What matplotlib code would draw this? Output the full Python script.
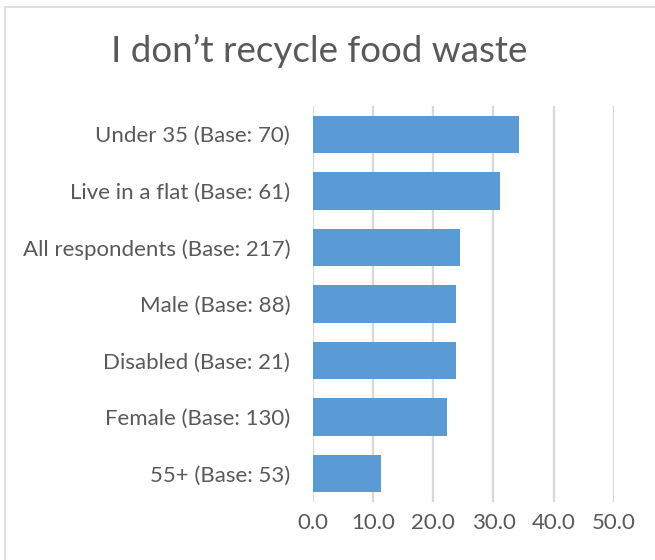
import matplotlib
matplotlib.use("Agg")
import matplotlib.pyplot as plt
from matplotlib.patches import Rectangle
from matplotlib.ticker import FormatStrFormatter

plt.rcParams['font.family'] = ['Lato', 'DejaVu Sans']

# data (top to bottom)
categories = ["Under 35 (Base: 70)", "Live in a flat (Base: 61)", "All respondents (Base: 217)",
              "Male (Base: 88)", "Disabled (Base: 21)", "Female (Base: 130)", "55+ (Base: 53)"]
values = [34.3, 31.1, 24.5, 23.8, 23.8, 22.3, 11.3]
xticks = [0, 10, 20, 30, 40, 50]

text_color = "#595959"
bar_color = "#5b9bd5"
grid_color = "#d9d9d9"

fig = plt.figure(figsize=(6.55, 5.6), dpi=100)
ax = fig.add_axes([0.478, 0.1036, 0.459, 0.7071])

y = list(range(len(categories)))[::-1]
ax.barh(y, values, height=0.66, color=bar_color, zorder=3)

ax.set_xlim(0, 50)
ax.set_ylim(-0.5, len(categories) - 0.5)
ax.set_xticks(xticks)
ax.xaxis.set_major_formatter(FormatStrFormatter('%.1f'))
ax.set_yticks(y)
ax.set_yticklabels(categories)
ax.grid(axis='x', color=grid_color, linewidth=1.6, zorder=0)
ax.tick_params(length=0, labelsize=16, colors=text_color)
ax.tick_params(axis='y', pad=16.5)
ax.tick_params(axis='x', pad=8)
for s in ax.spines.values():
    s.set_visible(False)

fig.text(0.488, 0.91, "I don\u2019t recycle food waste", ha='center', va='center',
         fontsize=26.5, color=text_color)

# chart area border
fig.patches.append(Rectangle((5 / 655, -0.1), 1.2, 1 - 7 / 560 + 0.1, transform=fig.transFigure,
                             fill=False, edgecolor=grid_color, linewidth=1.2))

fig.savefig("out.png", dpi=100)
